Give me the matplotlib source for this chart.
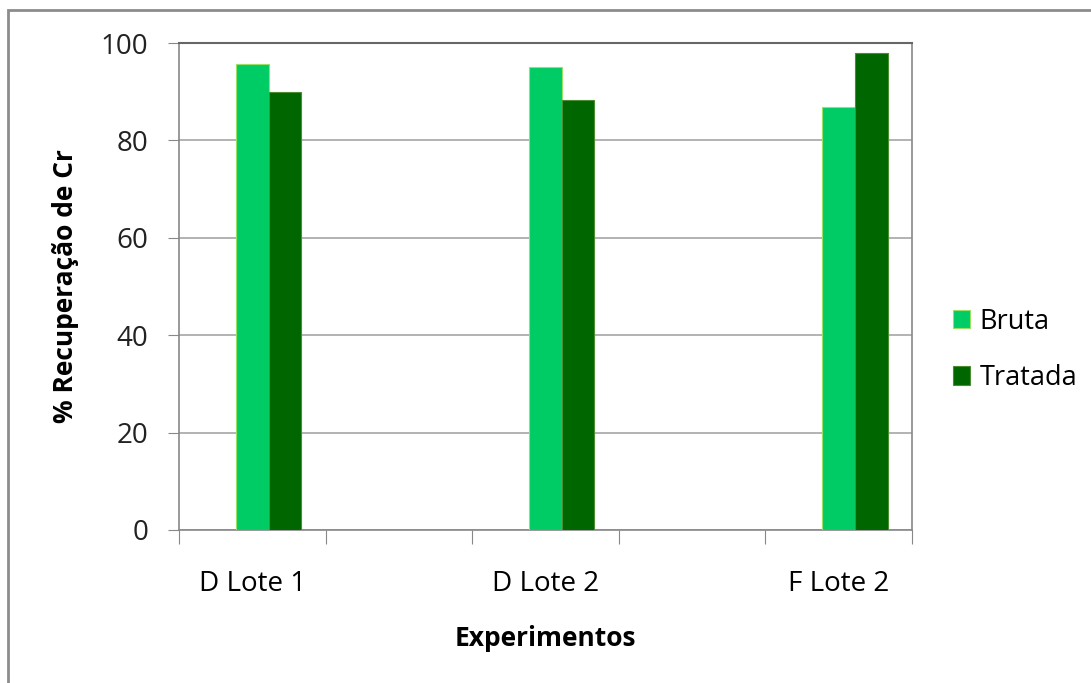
import matplotlib.pyplot as plt
from matplotlib.patches import Rectangle

experimentos = ["D Lote 1", "D Lote 2", "F Lote 2"]
bruta = [95.7, 95.1, 86.9]
tratada = [89.9, 88.3, 98.0]
yticks = [0, 20, 40, 60, 80, 100]

plt.rcParams['font.family'] = ['Open Sans', 'DejaVu Sans']

fig = plt.figure(figsize=(10.91, 6.83), dpi=100)
ax = fig.add_axes([179/1091, 1-530/683, 733/1091, 487/683])

pos = [2*i+0.5 for i in range(len(experimentos))]
w = 0.222
ax.bar([p for p in pos], bruta, w, color='#00cc66', edgecolor='#99e066', linewidth=0.8, label='Bruta', zorder=3)
ax.bar([p+w for p in pos], tratada, w, color='#006600', edgecolor='#4c8c33', linewidth=0.8, label='Tratada', zorder=3)

ax.set_xlim(0, 5)
ax.set_ylim(0, 100)
ax.set_yticks(yticks)
ax.set_xticks([0, 1, 2, 3, 4, 5])
ax.set_xticklabels([])
ax.set_xticks(pos, minor=True)
ax.set_xticklabels(experimentos, minor=True, fontsize=20)
ax.tick_params(axis='x', which='minor', length=0, pad=29)
ax.tick_params(axis='x', which='major', length=10, color='#888888', direction='out')
ax.tick_params(axis='y', length=8, color='#888888', labelsize=20, pad=14, labelcolor='#222222')
ax.grid(axis='y', color='#a6a6a6', linewidth=1.2, zorder=0)
for s in ['left', 'bottom', 'right']:
    ax.spines[s].set_color('#888888')
    ax.spines[s].set_linewidth(1.2)
ax.spines['top'].set_color('#666666')
ax.spines['top'].set_linewidth(1.5)

ax.set_xlabel('Experimentos', fontsize=19, fontweight='bold', labelpad=19)
ax.set_ylabel('% Recuperação de Cr', fontsize=19, fontweight='bold', labelpad=16)

ax.legend(loc='center left', bbox_to_anchor=(1.022, 0.37), frameon=False,
          fontsize=19.5, handlelength=0.65, handleheight=0.65, handletextpad=0.35,
          labelspacing=1.05)

fig.patches.append(Rectangle((8/1091, -0.1), 1.2, 1-10/683+0.1, transform=fig.transFigure,
                             fill=False, edgecolor='#8c8c8c', linewidth=2))

fig.savefig('out.png', dpi=100)
